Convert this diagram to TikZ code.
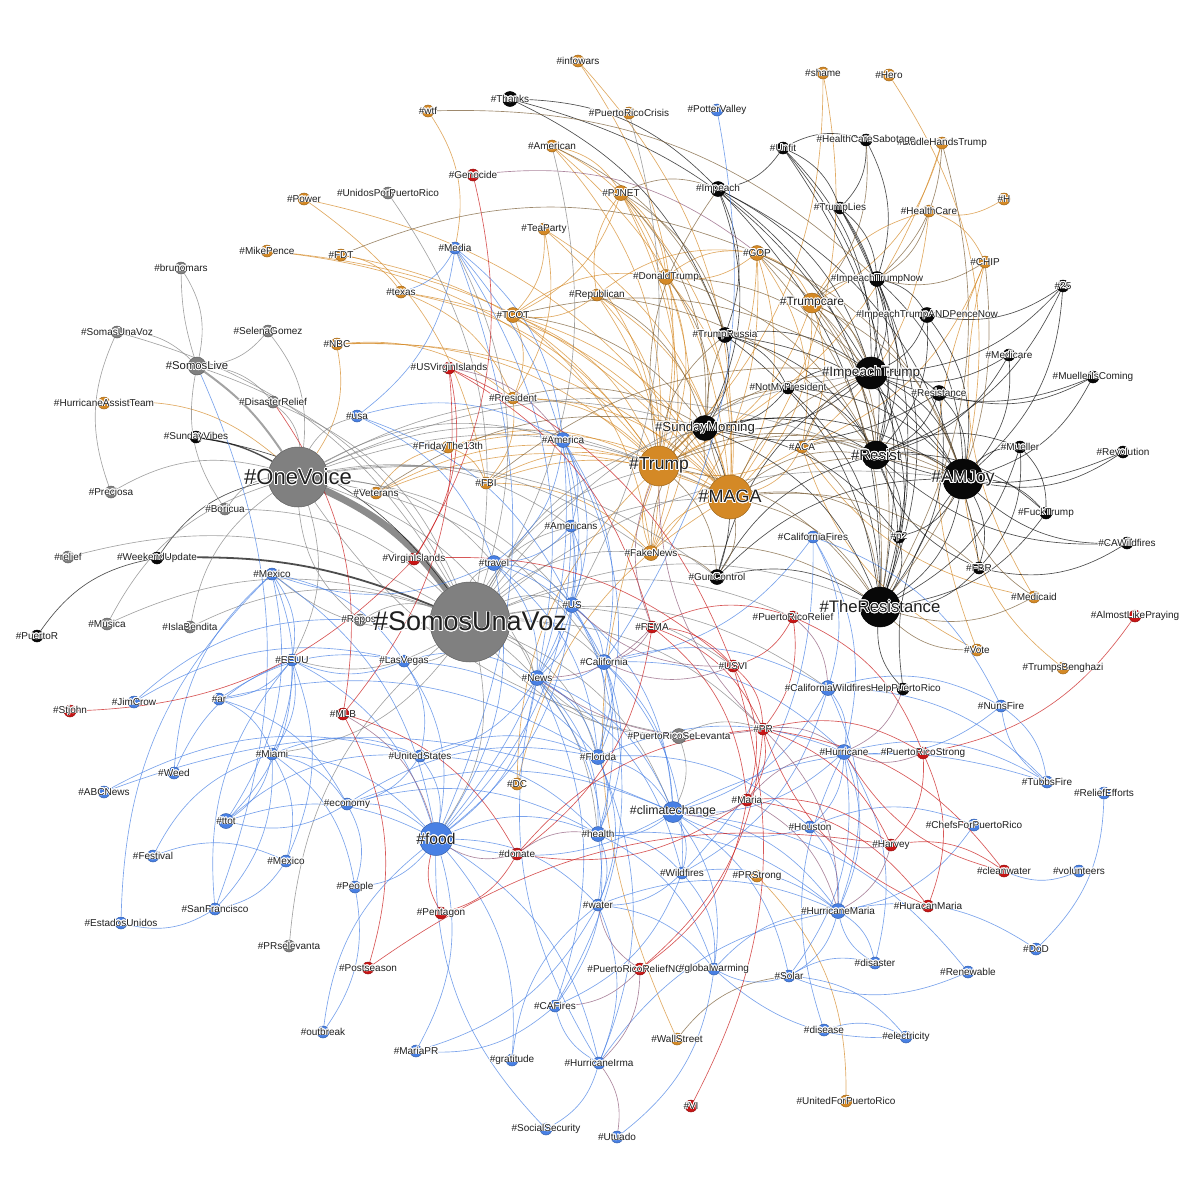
\documentclass[tikz,border=0pt]{standalone}
\usepackage{fontspec}
\setmainfont{Liberation Sans}
\usepackage[copies]{contour}
\contourlength{0.7pt}
\usetikzlibrary{backgrounds}

\definecolor{cOr}{RGB}{212,137,38}
\definecolor{cBl}{RGB}{72,128,228}
\definecolor{cRd}{RGB}{200,22,22}
\definecolor{cGy}{RGB}{128,128,128}
\definecolor{cBk}{RGB}{8,8,8}
\definecolor{cBn}{RGB}{120,92,52}
\definecolor{cPu}{RGB}{140,88,120}

% node lists: name/x/y
\newcommand\orangetags{infowars/578/61, shame/823/73, Hero/889/75, wtf/428/111,
  PuertoRicoCrisis/629/113, American/552/146, LiddleHandsTrump/942/143, Power/304/199,
  H/1004/199, HealthCare/929/211, TeaParty/544/229, MikePence/267/251, FDT/341/255,
  CHIP/985/262, Republican/597/295, texas/401/292, NBC/337/344, President/513/398,
  HurricaneAssistTeam/104/403, FridayThe13th/448/447, ACA/802/447, FBI/486/483,
  Veterans/376/493, Medicaid/1034/597, Vote/977/650, TrumpsBenghazi/1063/668,
  DC/517/784, PRStrong/757/876, WallStreet/677/1039, UnitedForPuertoRico/846/1101}
\newcommand\orangemid{PJNET/621/193, GOP/757/253, DonaldTrump/666/277, TCOT/513/315, FakeNews/651/553}
\newcommand\blacktags{Unfit/783/148, HealthCareSabotage/866/140, TrumpLies/840/208,
  25/1063/286, NotMyPresident/788/388, Medicare/1009/355, MuellerIsComing/1093/377,
  Mueller/1020/447, Revolution/1123/452, FuckTrump/1046/513, p2/899/537,
  CAWildfires/1127/543, FBR/979/568, SundayVibes/196/437, WeekendUpdate/157/558,
  PuertoR/37/636, HelpPuertoRico/903/689}
\newcommand\blackmid{Thanks/510/99, Impeach/718/189, ImpeachTrumpNow/877/279,
  ImpeachTrumpANDPenceNow/927/315, TrumpRussia/725/335, Resistance/939/393, GunControl/717/577}
\newcommand\graytags{brunomars/181/268, UnidosPorPuertoRico/388/193, SomasUnaVoz/117/332,
  SelenaGomez/268/331, DisasterRelief/273/402, Preciosa/111/492, Boricua/225/509,
  relief/68/557, Musica/107/624, IslaBendita/190/627, Repost/360/620, PRselevanta/289/946}
\newcommand\redtags{Genocide/473/175, USVirginIslands/449/368, VirginIslands/414/559,
  FEMA/652/627, PuertoRicoRelief/793/617, USVI/733/666, AlmostLikePraying/1135/616,
  Stjohn/70/711, MLB/343/714, PR/763/729, PuertoRicoStrong/923/753, Maria/747/800,
  Harvey/891/845, donate/517/854, cleanwater/1004/871, Pentagon/441/913,
  HuracanMaria/928/906, Postseason/368/968, PuertoRicoReliefNOW/640/969, VI/691/1106}
\newcommand\bluetags{PotterValley/717/110, Media/455/248, usa/357/416, Americans/571/526,
  CaliforniaFires/813/537, Mexico/272/574, LasVegas/404/661, EEUU/292/660, JimCrow/134/702,
  ar/219/699, NunsFire/1001/706, Miami/272/754, UnitedStates/420/756, Weed/174/773,
  TubbsFire/1047/782, ABCNews/104/792, ReliefEfforts/1104/793, economy/347/804,
  Houston/810/827, ChefsForPuertoRico/974/825, Festival/153/856, Wildfires/682/873,
  volunteers/1079/871, People/355/887, water/598/905, SanFrancisco/215/909,
  EstadosUnidos/121/923, disaster/875/963, Renewable/968/972, DoD/1036/949, Solar/789/976,
  globalwarming/714/969, CAFires/555/1006, outbreak/323/1032, disease/824/1030,
  electricity/906/1037, MariaPR/416/1051, gratitude/512/1060, HurricaneIrma/599/1063,
  SocialSecurity/546/1129, Utuado/617/1137}
\newcommand\bluemid{America/563/440, travel/494/563, US/572/605, California/604/662,
  News/537/678, CaliforniaWildfires/828/688, Florida/598/757, Hurricane/844/752,
  ttot/226/821, health/598/834, HurricaneMaria/838/911}

\tikzset{
  dot/.style={circle, inner sep=0pt, minimum size=12pt, line width=0.5pt},
  mid/.style={minimum size=15pt},
  o/.style={dot, fill=cOr, draw=cOr!75!black},
  b/.style={dot, fill=cBl, draw=cBl!75!black},
  r/.style={dot, fill=cRd, draw=cRd!75!black},
  g/.style={dot, fill=cGy, draw=cGy!75!black},
  k/.style={dot, fill=cBk, draw=black},
  lab/.style={inner sep=0pt, text=black!88, font=\fontsize{10}{10}\selectfont},
  e/.style={line width=0.65pt, opacity=0.72},
  eo/.style={e, draw=cOr},
  eb/.style={e, draw=cBl},
  er/.style={e, draw=cRd},
  eg/.style={e, draw=cGy},
  ek/.style={e, draw=cBk},
  en/.style={e, draw=cBn},
  ep/.style={e, draw=cPu},
}

\begin{document}
\begin{tikzpicture}[x=1pt,y=-1pt]
  \useasboundingbox (0,0) rectangle (1200,1200);

  % Small and medium nodes
  \foreach \n/\x/\y in \orangetags {\node[o] (\n) at (\x,\y) {};}
  \foreach \n/\x/\y in \orangemid {\node[o,mid] (\n) at (\x,\y) {};}
  \foreach \n/\x/\y in \blacktags {\node[k] (\n) at (\x,\y) {};}
  \foreach \n/\x/\y in \blackmid {\node[k,mid] (\n) at (\x,\y) {};}
  \foreach \n/\x/\y in \graytags {\node[g] (\n) at (\x,\y) {};}
  \foreach \n/\x/\y in \redtags {\node[r] (\n) at (\x,\y) {};}
  \foreach \n/\x/\y in \bluetags {\node[b] (\n) at (\x,\y) {};}
  \foreach \n/\x/\y in \bluemid {\node[b,mid] (\n) at (\x,\y) {};}
  \node[g,mid] (PuertoRicoSeLevanta) at (679,736) {};
  \node[b] (MexicoB) at (286,861) {};

  % Large nodes
  \node[o, minimum size=20pt] (Trumpcare) at (812,303) {};
  \node[o, minimum size=40pt] (Trump) at (659,466) {};
  \node[o, minimum size=44pt] (MAGA) at (730,497) {};
  \node[k, minimum size=32pt] (ImpeachTrump) at (871,373) {};
  \node[k, minimum size=25pt] (SundayMorning) at (705,428) {};
  \node[k, minimum size=28pt] (Resist) at (876,455) {};
  \node[k, minimum size=40pt] (AMJoy) at (963,479) {};
  \node[k, minimum size=40pt] (TheResistance) at (880,607) {};
  \node[g, minimum size=18pt] (SomosLive) at (197,366) {};
  \node[g, minimum size=60pt] (OneVoice) at (298,477) {};
  \node[g, minimum size=80pt] (SomosUnaVoz) at (470,622) {};
  \node[b, minimum size=21pt] (climatechange) at (673,812) {};
  \node[b, minimum size=33pt] (food) at (436,839) {};

  % Edges
  \begin{scope}[on background layer]
    \draw[eg, line width=7pt, opacity=0.9] (OneVoice) to[bend left=14] (SomosUnaVoz);
    \draw[eg, line width=2pt] (SomosLive) to[bend left=10] (OneVoice);
    \draw[ek, line width=1.4pt] (SundayVibes) to[bend left=10] (OneVoice);
    \draw[ek, line width=1.8pt] (WeekendUpdate) to[bend left=12] (SomosUnaVoz);
    \draw[eg] (brunomars) to[bend right=8] (SomosLive);

    \foreach \a/\b in {infowars/MAGA, shame/Trump, Hero/AMJoy, wtf/Media, American/PJNET,
      American/Trump, American/MAGA, PJNET/Trump, PJNET/MAGA, PJNET/TCOT, PJNET/FakeNews,
      PJNET/DonaldTrump, TeaParty/TCOT, TeaParty/MAGA, TeaParty/Trump, DonaldTrump/Trump,
      DonaldTrump/MAGA, DonaldTrump/GOP, GOP/Trump, GOP/MAGA, GOP/Trumpcare, GOP/ACA,
      Republican/Trump, Republican/MAGA, Republican/GOP, Republican/PJNET, texas/Trump,
      texas/MAGA, TCOT/Trump, TCOT/MAGA, TCOT/President, TCOT/FakeNews, TCOT/DonaldTrump,
      Trumpcare/ACA, Trumpcare/Trump, Trumpcare/MAGA, Trumpcare/HealthCare, NBC/OneVoice,
      NBC/Trump, NBC/MAGA, NBC/President, President/Trump, President/MAGA, President/FBI,
      HurricaneAssistTeam/OneVoice, FridayThe13th/Trump, FridayThe13th/MAGA,
      FridayThe13th/FBI, FBI/Trump, FBI/MAGA, FBI/FakeNews, Veterans/Trump, Veterans/MAGA,
      Veterans/FridayThe13th, FakeNews/Trump, FakeNews/MAGA, Medicaid/CHIP, Medicaid/ACA,
      Vote/ACA, Vote/CHIP, TrumpsBenghazi/AMJoy, DC/MAGA, DC/Trump,
      PRStrong/UnitedForPuertoRico, WallStreet/Trump, H/HealthCare, LiddleHandsTrump/Trump,
      LiddleHandsTrump/Trumpcare, HealthCare/CHIP, HealthCare/ACA, CHIP/ACA, MikePence/Trump,
      MikePence/MAGA, Power/FBI, Power/MAGA, FDT/texas, FDT/Trump, ACA/MAGA, ACA/Trump,
      Trump/MAGA, American/DonaldTrump, DonaldTrump/FakeNews, GOP/FakeNews,
      Republican/FakeNews, TeaParty/President, texas/President, infowars/Trump,
      shame/MAGA, GOP/DonaldTrump, Republican/TCOT}
      \draw[eo] (\a) to[bend left=22] (\b);

    \foreach \a/\b in {Thanks/ImpeachTrump, Thanks/TrumpRussia, Unfit/Impeach,
      Unfit/HealthCareSabotage, Unfit/TrumpLies, Unfit/ImpeachTrump, Unfit/Resist,
      Impeach/ImpeachTrump, Impeach/Resist, Impeach/TheResistance, Impeach/AMJoy,
      Impeach/TrumpRussia, Impeach/SundayMorning, HealthCareSabotage/TrumpLies,
      HealthCareSabotage/ImpeachTrumpNow, TrumpLies/ImpeachTrumpNow, TrumpLies/ImpeachTrump,
      TrumpLies/Resist, TrumpLies/TheResistance, ImpeachTrumpNow/ImpeachTrump,
      ImpeachTrumpNow/Resist, ImpeachTrumpNow/AMJoy, ImpeachTrumpNow/ImpeachTrumpANDPenceNow,
      ImpeachTrumpNow/TheResistance, ImpeachTrumpANDPenceNow/ImpeachTrump,
      ImpeachTrumpANDPenceNow/AMJoy, ImpeachTrumpANDPenceNow/Resist,
      25/ImpeachTrumpANDPenceNow, 25/ImpeachTrump, 25/AMJoy,
      TrumpRussia/ImpeachTrump, TrumpRussia/Resist, TrumpRussia/SundayMorning,
      TrumpRussia/AMJoy, TrumpRussia/TheResistance, TrumpRussia/NotMyPresident,
      NotMyPresident/ImpeachTrump, NotMyPresident/Resist, NotMyPresident/SundayMorning,
      NotMyPresident/TheResistance, NotMyPresident/AMJoy, ImpeachTrump/Resist,
      ImpeachTrump/AMJoy, ImpeachTrump/TheResistance, ImpeachTrump/Resistance,
      ImpeachTrump/SundayMorning, ImpeachTrump/p2, ImpeachTrump/FBR, Medicare/AMJoy,
      Medicare/ImpeachTrump, Medicare/Resist, MuellerIsComing/Resistance,
      MuellerIsComing/ImpeachTrump, MuellerIsComing/AMJoy, Resistance/AMJoy,
      Resistance/Resist, Resistance/TheResistance, Resistance/SundayMorning,
      SundayMorning/Resist, SundayMorning/AMJoy, SundayMorning/TheResistance,
      SundayMorning/GunControl, SundayMorning/p2, Resist/AMJoy, Resist/TheResistance,
      Resist/p2, Resist/Mueller, Resist/FuckTrump, AMJoy/TheResistance, AMJoy/p2, AMJoy/FBR,
      AMJoy/Mueller, AMJoy/FuckTrump, Revolution/Resist, Revolution/AMJoy,
      Mueller/TheResistance, Mueller/FuckTrump, Mueller/FBR, FuckTrump/TheResistance,
      CAWildfires/AMJoy, CAWildfires/FBR, CAWildfires/Resist, p2/TheResistance,
      FBR/TheResistance, FBR/Resist, GunControl/TheResistance, GunControl/Resist,
      GunControl/AMJoy, GunControl/ImpeachTrump, PuertoR/WeekendUpdate,
      HelpPuertoRico/TheResistance, HelpPuertoRico/AMJoy, SundayVibes/SomosUnaVoz,
      WeekendUpdate/OneVoice, Thanks/Impeach, Unfit/TheResistance, 25/Resist}
      \draw[ek] (\a) to[bend left=22] (\b);

    \foreach \a/\b in {Trump/SundayMorning, MAGA/SundayMorning, Trump/ImpeachTrump,
      MAGA/ImpeachTrump, Trump/Resist, MAGA/Resist, Trump/AMJoy, MAGA/AMJoy,
      Trump/TheResistance, MAGA/TheResistance, wtf/ImpeachTrumpNow, GOP/ImpeachTrump,
      GOP/Resist, GOP/AMJoy, GOP/TheResistance, Trumpcare/ImpeachTrump, Trumpcare/Resist,
      Trumpcare/AMJoy, Trumpcare/ImpeachTrumpNow, Trumpcare/TheResistance,
      DonaldTrump/ImpeachTrump, DonaldTrump/SundayMorning, DonaldTrump/Resist,
      PJNET/Impeach, PJNET/TrumpRussia, PJNET/SundayMorning, ACA/Resist, ACA/AMJoy,
      ACA/TheResistance, ACA/ImpeachTrump, FDT/GOP, CHIP/ImpeachTrumpNow, CHIP/TheResistance,
      LiddleHandsTrump/ImpeachTrumpNow, LiddleHandsTrump/TheResistance,
      HealthCare/ImpeachTrumpNow, Medicaid/AMJoy, Medicaid/TheResistance,
      HealthCareSabotage/Trumpcare, FakeNews/SundayMorning, FakeNews/GunControl,
      FakeNews/TheResistance, WallStreet/Solar, TCOT/SundayMorning, TCOT/ImpeachTrump,
      Republican/SundayMorning, Republican/Resist, American/TrumpRussia, Vote/TheResistance,
      Trump/TrumpRussia, MAGA/GunControl, Trump/GunControl, MAGA/p2, Trump/NotMyPresident,
      MAGA/FBR, President/SundayMorning, FBI/ImpeachTrump, Veterans/SundayMorning,
      Trump/Impeach, MAGA/TrumpRussia}
      \draw[en] (\a) to[bend left=22] (\b);

    \foreach \a/\b in {brunomars/SomosLive, SomasUnaVoz/SomosLive, SomasUnaVoz/SomosUnaVoz,
      SelenaGomez/SomosLive, SelenaGomez/OneVoice, SomosLive/SomosUnaVoz,
      SomosLive/DisasterRelief, DisasterRelief/OneVoice, DisasterRelief/SomosUnaVoz,
      Preciosa/OneVoice, Preciosa/SomasUnaVoz, Boricua/SomosLive, Boricua/SomosUnaVoz,
      Boricua/OneVoice, relief/SomosUnaVoz, Musica/SomosUnaVoz, Musica/OneVoice,
      IslaBendita/SomosUnaVoz, IslaBendita/OneVoice, Repost/SomosUnaVoz, Repost/OneVoice,
      UnidosPorPuertoRico/SomosUnaVoz, PuertoRicoCrisis/US, PRselevanta/SomosUnaVoz,
      PuertoRicoSeLevanta/SomosUnaVoz, PuertoRicoSeLevanta/OneVoice, OneVoice/America,
      OneVoice/US, SomosUnaVoz/US, SomosUnaVoz/News, SomosUnaVoz/California,
      SomosUnaVoz/travel, SomosUnaVoz/food, SomosUnaVoz/climatechange, SomosUnaVoz/Trump,
      OneVoice/Trump, SomosUnaVoz/MAGA, OneVoice/MAGA, SomosUnaVoz/FakeNews,
      SomosUnaVoz/Americans, OneVoice/Americans, OneVoice/travel, SomosUnaVoz/LasVegas,
      SomosUnaVoz/EEUU, OneVoice/EEUU, SomosUnaVoz/Florida, SomosUnaVoz/health,
      OneVoice/usa, SomosUnaVoz/TheResistance, OneVoice/GunControl,
      SomosUnaVoz/SundayMorning, OneVoice/SundayMorning, SomosUnaVoz/AMJoy,
      American/SomosUnaVoz, SomosUnaVoz/Mexico, SomosUnaVoz/PuertoRicoRelief,
      SomosUnaVoz/CaliforniaWildfires, OneVoice/California, OneVoice/News,
      SomosUnaVoz/ImpeachTrump, PuertoRicoSeLevanta/PR, PuertoRicoSeLevanta/climatechange,
      PuertoRicoSeLevanta/News, Media/SomosUnaVoz, SomosUnaVoz/PR, SomosUnaVoz/USVI,
      OneVoice/Resist, OneVoice/FakeNews, SomosUnaVoz/Miami}
      \draw[eg] (\a) to[bend left=22] (\b);

    \foreach \a/\b in {PotterValley/California, Media/America, Media/News, Media/US,
      Media/texas, Media/usa, Media/food, usa/America, usa/travel, usa/US, America/Americans,
      America/US, America/travel, America/News, America/California, America/Florida,
      America/food, Americans/US, Americans/travel, Americans/News, Americans/food,
      travel/US, travel/News, travel/food, travel/Mexico, travel/Florida, travel/California,
      CaliforniaFires/CaliforniaWildfires, CaliforniaFires/NunsFire, CaliforniaFires/California,
      CaliforniaFires/Hurricane, CaliforniaFires/Wildfires, Mexico/EEUU, Mexico/LasVegas,
      Mexico/food, Mexico/Miami, Mexico/ttot, US/News, US/California, US/Florida, US/food,
      US/climatechange, US/health, LasVegas/News, LasVegas/EEUU, LasVegas/food,
      LasVegas/Florida, LasVegas/UnitedStates, EEUU/Miami, EEUU/ttot, EEUU/ar, EEUU/food,
      EEUU/MexicoB, California/News, California/climatechange, California/Florida,
      California/CaliforniaWildfires, California/Wildfires, California/health,
      California/Hurricane, California/CAFires, News/food, News/climatechange, News/Florida,
      News/health, News/UnitedStates, News/CAFires, News/Wildfires, News/water,
      CaliforniaWildfires/NunsFire, CaliforniaWildfires/TubbsFire, CaliforniaWildfires/Hurricane,
      CaliforniaWildfires/Wildfires, CaliforniaWildfires/HurricaneMaria,
      CaliforniaWildfires/climatechange, JimCrow/Repost, JimCrow/LasVegas, ar/LasVegas,
      ar/Florida, ar/Miami, ar/economy, NunsFire/TubbsFire, TubbsFire/NunsFire,
      NunsFire/Hurricane, Miami/UnitedStates, Miami/ttot, Miami/MexicoB, Miami/economy,
      Miami/SanFrancisco, Miami/food, Miami/People, UnitedStates/food, UnitedStates/economy,
      UnitedStates/Florida, UnitedStates/health, Florida/climatechange, Florida/health,
      Florida/HurricaneIrma, Florida/Hurricane, Florida/water, Florida/Houston,
      Hurricane/Houston, Hurricane/HurricaneMaria, Hurricane/disaster, Hurricane/climatechange,
      Hurricane/TubbsFire, Hurricane/Solar, Weed/Mexico, Weed/EEUU, ABCNews/UnitedStates,
      ABCNews/climatechange, ReliefEfforts/DoD, economy/food, economy/People, economy/ttot,
      economy/climatechange, economy/health, economy/Florida, climatechange/health,
      climatechange/Wildfires, climatechange/globalwarming, climatechange/Solar,
      climatechange/Renewable, climatechange/food, climatechange/HurricaneMaria,
      climatechange/TubbsFire, Houston/HurricaneMaria, Houston/ChefsForPuertoRico,
      Houston/climatechange, ChefsForPuertoRico/HurricaneMaria, food/health, food/People,
      food/gratitude, food/water, food/MariaPR, food/HurricaneIrma, health/water,
      health/Wildfires, health/CAFires, health/HurricaneMaria, health/globalwarming,
      Festival/MexicoB, Festival/Miami, MexicoB/SanFrancisco, Wildfires/water,
      Wildfires/CAFires, Wildfires/globalwarming, Wildfires/HurricaneMaria,
      volunteers/cleanwater, People/outbreak, water/HurricaneIrma, water/globalwarming,
      water/HurricaneMaria, water/MariaPR, SanFrancisco/EstadosUnidos, SanFrancisco/EEUU,
      SomosLive/SanFrancisco, HurricaneMaria/disaster, HurricaneMaria/DoD,
      HurricaneMaria/Solar, Renewable/Solar, Solar/globalwarming, Solar/electricity,
      Solar/disaster, globalwarming/Utuado, globalwarming/HurricaneMaria, CAFires/MariaPR,
      disease/Hurricane, disease/electricity, electricity/globalwarming, gratitude/water,
      HurricaneIrma/SocialSecurity, HurricaneIrma/HurricaneMaria, HurricaneIrma/CAFires,
      HurricaneIrma/News, disaster/HurricaneMaria, ttot/food, ttot/UnitedStates,
      EstadosUnidos/Mexico, outbreak/food, SocialSecurity/food}
      \draw[eb] (\a) to[bend left=22] (\b);

    \foreach \a/\b in {Genocide/VirginIslands, USVirginIslands/VirginIslands,
      USVirginIslands/FEMA, USVirginIslands/MLB, VirginIslands/Stjohn, VirginIslands/USVI,
      FEMA/PR, FEMA/USVI, FEMA/PuertoRicoRelief, FEMA/Maria, PuertoRicoRelief/PR,
      PuertoRicoRelief/USVI, PuertoRicoRelief/PuertoRicoStrong, USVI/PR, USVI/Maria, USVI/VI,
      AlmostLikePraying/PuertoRicoStrong, MLB/Postseason, MLB/donate, PR/Maria,
      PR/PuertoRicoStrong, PR/Harvey, PR/PuertoRicoReliefNOW, PuertoRicoStrong/HuracanMaria,
      PuertoRicoStrong/Harvey, Maria/Harvey, Maria/PuertoRicoReliefNOW, Maria/donate,
      Harvey/cleanwater, donate/Pentagon, donate/PR, Postseason/Harvey, Pentagon/food,
      HuracanMaria/PR, cleanwater/Hurricane, DisasterRelief/MLB, USVirginIslands/USVI,
      FEMA/donate, PR/cleanwater, Maria/HuracanMaria}
      \draw[er] (\a) to[bend left=22] (\b);

    \foreach \a/\b in {Genocide/GOP, FEMA/California, PR/Hurricane, Maria/HurricaneMaria,
      Harvey/Houston, donate/food, PuertoRicoReliefNOW/CAFires, PuertoRicoReliefNOW/water,
      PuertoRicoReliefNOW/HurricaneIrma, HurricaneIrma/Utuado, PR/HurricaneMaria,
      USVI/California, PuertoRicoRelief/CaliforniaWildfires, Maria/Hurricane,
      PuertoRicoStrong/Hurricane, HelpPuertoRico/Hurricane, FEMA/News, MLB/food, PR/News,
      USVI/US, Harvey/HurricaneMaria, USVirginIslands/America, FEMA/Trump, PR/Trump,
      Maria/climatechange, donate/health}
      \draw[ep] (\a) to[bend left=22] (\b);
  \end{scope}

  % Labels
  \foreach \n/\x/\y in \orangetags {\node[lab] at (\x,\y) {\contour{white}{\#\n}};}
  \foreach \n/\x/\y in \orangemid {\node[lab] at (\x,\y) {\contour{white}{\#\n}};}
  \foreach \n/\x/\y in \blacktags {\node[lab] at (\x,\y) {\contour{white}{\#\n}};}
  \foreach \n/\x/\y in \blackmid {\node[lab] at (\x,\y) {\contour{white}{\#\n}};}
  \foreach \n/\x/\y in \graytags {\node[lab] at (\x,\y) {\contour{white}{\#\n}};}
  \foreach \n/\x/\y in \redtags {\node[lab] at (\x,\y) {\contour{white}{\#\n}};}
  \foreach \n/\x/\y in \bluetags {\node[lab] at (\x,\y) {\contour{white}{\#\n}};}
  \foreach \n/\x/\y in \bluemid {\node[lab] at (\x,\y) {\contour{white}{\#\n}};}
  \node[lab] at (PuertoRicoSeLevanta) {\contour{white}{\#PuertoRicoSeLevanta}};
  \node[lab] at (MexicoB) {\contour{white}{\#Mexico}};

  \node[lab, font=\fontsize{12}{12}\selectfont] at (Trumpcare) {\contour{white}{\#Trumpcare}};
  \node[lab, font=\fontsize{17.5}{18}\selectfont] at (Trump) {\contour{white}{\#Trump}};
  \node[lab, font=\fontsize{18}{18}\selectfont] at (MAGA) {\contour{white}{\#MAGA}};
  \node[lab, font=\fontsize{13.6}{14}\selectfont] at (ImpeachTrump) {\contour{white}{\#ImpeachTrump}};
  \node[lab, font=\fontsize{13.2}{14}\selectfont] at (SundayMorning) {\contour{white}{\#SundayMorning}};
  \node[lab, font=\fontsize{15}{15}\selectfont] at (Resist) {\contour{white}{\#Resist}};
  \node[lab, font=\fontsize{17.5}{18}\selectfont] at (AMJoy) {\contour{white}{\#AMJoy}};
  \node[lab, font=\fontsize{16.7}{17}\selectfont] at (TheResistance) {\contour{white}{\#TheResistance}};
  \node[lab, font=\fontsize{11.3}{12}\selectfont] at (SomosLive) {\contour{white}{\#SomosLive}};
  \node[lab, font=\fontsize{22}{22}\selectfont] at (OneVoice) {\contour{white}{\#OneVoice}};
  \node[lab, font=\fontsize{27}{27}\selectfont] at (SomosUnaVoz) {\contour{white}{\#SomosUnaVoz}};
  \node[lab, font=\fontsize{12.3}{13}\selectfont] at (climatechange) {\contour{white}{\#climatechange}};
  \node[lab, font=\fontsize{15.6}{16}\selectfont] at (food) {\contour{white}{\#food}};
\end{tikzpicture}
\end{document}
